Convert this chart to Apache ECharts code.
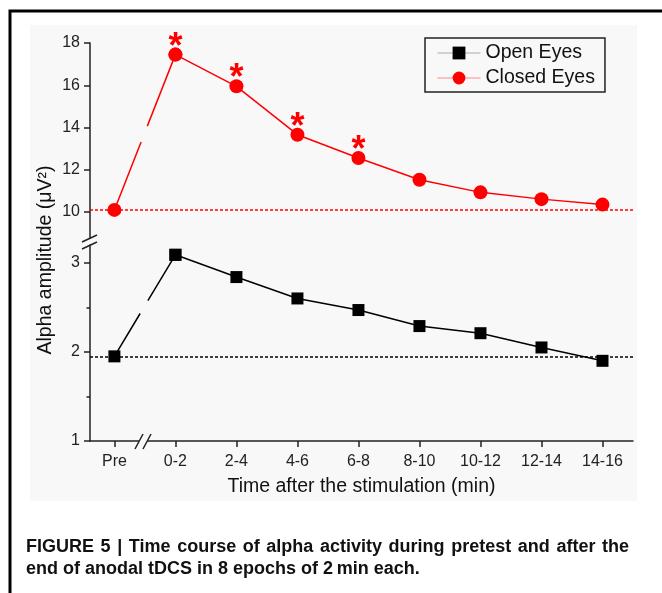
<!DOCTYPE html>
<html>
<head>
<meta charset="utf-8">
<script src="https://cdn.jsdelivr.net/npm/echarts@6/dist/echarts.min.js"></script>
<style>
  html, body { margin: 0; padding: 0; background: #fff; }
  #chart { width: 662px; height: 593px; }
</style>
</head>
<body>
<div id="chart"></div>
<script>
// values
const timeLabels = ['Pre', '0-2', '2-4', '4-6', '6-8', '8-10', '10-12', '12-14', '14-16']
const openEyes = [1.95, 3.09, 2.84, 2.60, 2.47, 2.29, 2.21, 2.05, 1.90]
const closedEyes = [10.1, 17.45, 15.95, 13.66, 12.56, 11.53, 10.93, 10.61, 10.35]
const significant = [false, true, true, true, true, false, false, false, false]
const upperTicks = [10, 12, 14, 16, 18]
const lowerTicks = [1, 2, 3]
const lowerMinorTicks = [1.5, 2.5]
const captionLine1 = 'FIGURE 5 | Time course of alpha activity during pretest and after the'
const captionLine2 = 'end of anodal tDCS in 8 epochs of 2\u2009min each.'

const font = 'Liberation Sans'
const bg = '#f8f8f8'
const xTicks = timeLabels.map((_, i) => i)

// [index, value] pairs for a slice of a series
function pts (values, from, to) {
  return values.slice(from, to).map((v, k) => [from + k, v])
}

// the caption's first line is justified in the original, so spread its words
function justifiedLine (line, left, right, y, size) {
  const ctx = document.createElement('canvas').getContext('2d')
  ctx.font = 'bold ' + size + 'px "' + font + '"'
  const words = line.split(' ')
  const widths = words.map(w => ctx.measureText(w).width)
  const total = widths.reduce((a, b) => a + b, 0)
  const gap = (right - left - total) / (words.length - 1)
  let x = left
  return words.map((w, i) => {
    const el = {
      type: 'text', x: x, y: y,
      style: { text: w, fontSize: size, fontWeight: 'bold', fontFamily: font, fill: '#111', verticalAlign: 'middle' }
    }
    x += widths[i] + gap
    return el
  })
}

const chart = echarts.init(document.getElementById('chart'))

const xBase = { type: 'value', min: -0.4, max: 8.5 }
const yLabel = { fontSize: 16, fontFamily: font, color: '#222', margin: 10 }
const axisLine = { show: true, onZero: false, lineStyle: { color: '#222', width: 1.5 } }
const tick = { length: 6, lineStyle: { color: '#222', width: 1.5 } }
const capSize = 18

chart.setOption({
  animation: false,
  backgroundColor: '#fff',
  legend: {
    orient: 'vertical',
    left: 425,
    top: 38,
    padding: [5, 10, 4, 12],
    borderColor: '#222',
    borderWidth: 1.5,
    itemWidth: 43,
    itemHeight: 16,
    itemGap: 5,
    textStyle: { fontSize: 19.5, fontFamily: font, color: '#111' },
    data: [
      { name: 'Open Eyes', lineStyle: { color: '#aaa', width: 1, type: 'solid' } },
      { name: 'Closed Eyes', lineStyle: { color: '#f88', width: 1, type: 'solid' } }
    ]
  },
  grid: [
    { left: 90, top: 43, width: 543, height: 195 },
    { left: 90, top: 245, width: 543, height: 196 }
  ],
  xAxis: [
    Object.assign({ gridIndex: 0, show: false }, xBase),
    Object.assign({
      gridIndex: 1,
      name: 'Time after the stimulation (min)',
      nameLocation: 'middle',
      nameGap: 36,
      nameTextStyle: { fontSize: 19.5, fontFamily: font, color: '#111' },
      axisLine: axisLine,
      axisTick: Object.assign({ customValues: xTicks }, tick),
      axisLabel: {
        customValues: xTicks,
        fontSize: 16,
        fontFamily: font,
        color: '#222',
        margin: 13,
        formatter: v => timeLabels[Math.round(v)]
      },
      splitLine: { show: false }
    }, xBase)
  ],
  yAxis: [
    {
      gridIndex: 0, type: 'value', min: 8.77, max: 18, position: 'left',
      axisLine: axisLine,
      axisTick: Object.assign({ customValues: upperTicks }, tick),
      axisLabel: Object.assign({ customValues: upperTicks }, yLabel),
      splitLine: { show: false }
    },
    {
      gridIndex: 1, type: 'value', min: 1, max: 3.2, position: 'left',
      axisLine: axisLine,
      axisTick: Object.assign({ customValues: lowerTicks }, tick),
      axisLabel: Object.assign({ customValues: lowerTicks }, yLabel),
      splitLine: { show: false }
    },
    {
      // minor ticks of the lower panel
      gridIndex: 1, type: 'value', min: 1, max: 3.2, position: 'left', offset: 0,
      axisLine: { show: false, onZero: false },
      axisTick: { customValues: lowerMinorTicks, length: 3.5, lineStyle: { color: '#222', width: 1.5 } },
      axisLabel: { show: false },
      splitLine: { show: false }
    }
  ],
  series: [
    {
      name: 'Open Eyes',
      type: 'line',
      xAxisIndex: 1,
      yAxisIndex: 1,
      data: pts(openEyes, 1),
      symbol: 'rect',
      symbolSize: 12,
      itemStyle: { color: '#000' },
      lineStyle: { color: '#000', width: 1.5 },
      markLine: {
        silent: true,
        symbol: ['none', 'none'],
        label: { show: false },
        lineStyle: { color: '#000', width: 1.5, type: [3, 2] },
        data: [{ yAxis: openEyes[0] }]
      }
    },
    {
      // Pre -> 0-2 link, broken at the axis break
      name: 'Open Eyes',
      type: 'line',
      xAxisIndex: 1,
      yAxisIndex: 1,
      data: pts(openEyes, 0, 2),
      symbol: 'rect',
      symbolSize: 12,
      itemStyle: { color: '#000' },
      lineStyle: { color: '#000', width: 1.5, type: [50, 15, 300] }
    },
    {
      name: 'Closed Eyes',
      type: 'line',
      xAxisIndex: 0,
      yAxisIndex: 0,
      data: closedEyes.slice(1).map((v, k) => ({
        value: [k + 1, v],
        label: { show: significant[k + 1] }
      })),
      symbol: 'circle',
      symbolSize: 14,
      itemStyle: { color: '#ff0000' },
      lineStyle: { color: '#ff0000', width: 1.5 },
      label: {
        position: 'top',
        distance: 0,
        formatter: '*',
        fontSize: 36,
        fontWeight: 'bold',
        fontFamily: font,
        color: '#ff0000',
        offset: [0, 18]
      },
      markLine: {
        silent: true,
        symbol: ['none', 'none'],
        label: { show: false },
        lineStyle: { color: '#ff0000', width: 1.5, type: [3, 2] },
        data: [{ yAxis: closedEyes[0] }]
      }
    },
    {
      name: 'Closed Eyes',
      type: 'line',
      xAxisIndex: 0,
      yAxisIndex: 0,
      data: pts(closedEyes, 0, 2),
      symbol: 'circle',
      symbolSize: 14,
      itemStyle: { color: '#ff0000' },
      lineStyle: { color: '#ff0000', width: 1.5, type: [73, 17, 400] }
    }
  ],
  graphic: [
    // figure frame and plot backdrop
    { type: 'rect', z: -100, shape: { x: 30, y: 25, width: 607, height: 476 }, style: { fill: bg } },
    { type: 'rect', z: 100, shape: { x: 10, y: 11, width: 700, height: 700 }, style: { fill: 'none', stroke: '#000', lineWidth: 3 } },
    // y title
    {
      type: 'text', x: 46, y: 260, rotation: Math.PI / 2,
      style: { text: 'Alpha amplitude (\u03bcV\u00b2)', fontSize: 19.5, fontFamily: font, fill: '#111', align: 'center', verticalAlign: 'middle' }
    },
    // x axis break
    { type: 'rect', z: 100, shape: { x: 139, y: 438, width: 8, height: 6 }, style: { fill: bg } },
    { type: 'line', z: 101, shape: { x1: 135, y1: 449, x2: 143, y2: 434 }, style: { stroke: '#222', lineWidth: 1.5 } },
    { type: 'line', z: 101, shape: { x1: 143, y1: 449, x2: 151, y2: 434 }, style: { stroke: '#222', lineWidth: 1.5 } },
    // y axis break
    { type: 'line', z: 101, shape: { x1: 82, y1: 242, x2: 97, y2: 235 }, style: { stroke: '#222', lineWidth: 1.5 } },
    { type: 'line', z: 101, shape: { x1: 82, y1: 249, x2: 97, y2: 242 }, style: { stroke: '#222', lineWidth: 1.5 } },
    // caption
    ...justifiedLine(captionLine1, 26, 629, 547, capSize),
    {
      type: 'text', x: 26, y: 569.5,
      style: { text: captionLine2, fontSize: capSize, fontWeight: 'bold', fontFamily: font, fill: '#111', verticalAlign: 'middle' }
    }
  ]
})
</script>
</body>
</html>
